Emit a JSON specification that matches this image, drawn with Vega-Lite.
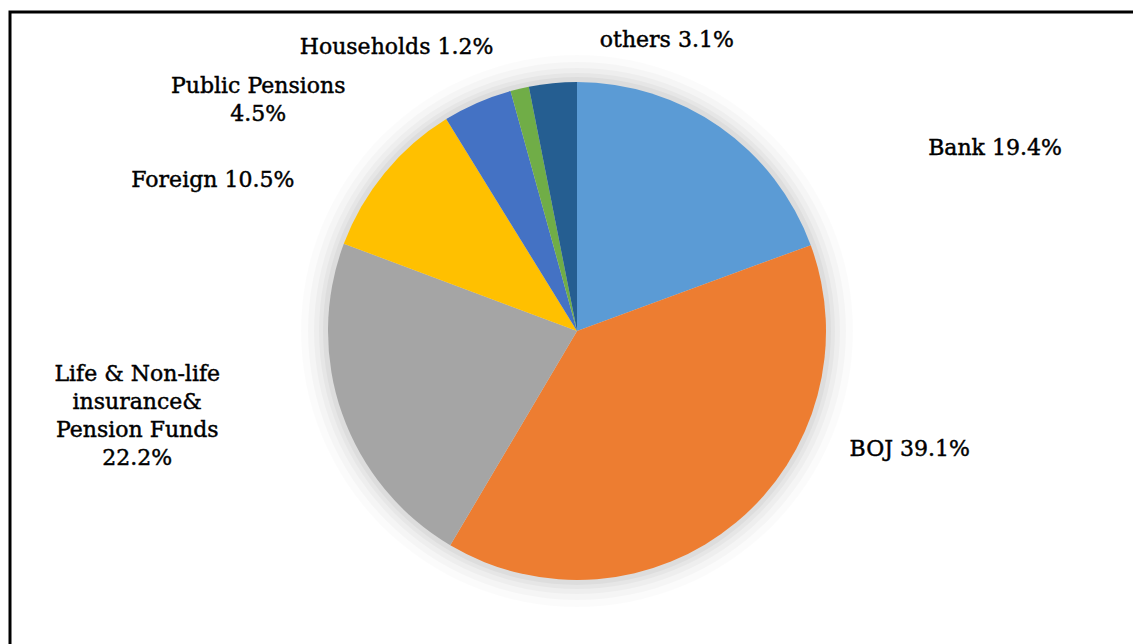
{
  "$schema": "https://vega.github.io/schema/vega-lite/v6.json",
  "width": 1133,
  "height": 644,
  "autosize": {"type": "fit", "contains": "padding"},
  "padding": {"left": 10, "top": 12, "right": -11, "bottom": -6},
  "background": "white",
  "config": {
    "view": {"stroke": "black", "strokeWidth": 3},
    "style": {"view": {"stroke": "black", "strokeWidth": 3}, "cell": {"stroke": "black", "strokeWidth": 3}},
    "text": {"font": "DejaVu Serif", "fontSize": 22, "color": "black", "stroke": "black", "strokeWidth": 0.45, "align": "center", "baseline": "middle", "lineBreak": "\n", "lineHeight": 28}
  },
  "data": {
    "values": [
      {"category": "Bank", "share": 19.4, "label": "Bank 19.4%"},
      {"category": "BOJ", "share": 39.1, "label": "BOJ 39.1%"},
      {"category": "Life & Non-life insurance& Pension Funds", "share": 22.2, "label": "Life & Non-life\ninsurance&\nPension Funds\n22.2%"},
      {"category": "Foreign", "share": 10.5, "label": "Foreign 10.5%"},
      {"category": "Public Pensions", "share": 4.5, "label": "Public Pensions\n4.5%"},
      {"category": "Households", "share": 1.2, "label": "Households 1.2%"},
      {"category": "others", "share": 3.1, "label": "others 3.1%"}
    ]
  },
  "transform": [
    {"window": [{"op": "row_number", "as": "idx"}]},
    {"stack": "share", "groupby": [], "sort": [{"field": "idx", "order": "ascending"}], "as": ["s0", "s1"]}
  ],
  "layer": [
    {
      "transform": [{"aggregate": [{"op": "sum", "field": "share", "as": "total"}]}],
      "mark": {"type": "arc", "outerRadius": 276, "fill": "#000", "opacity": 0.016},
      "encoding": {"theta": {"field": "total", "type": "quantitative"}}
    },
    {
      "transform": [{"aggregate": [{"op": "sum", "field": "share", "as": "total"}]}],
      "mark": {"type": "arc", "outerRadius": 269, "fill": "#000", "opacity": 0.022},
      "encoding": {"theta": {"field": "total", "type": "quantitative"}}
    },
    {
      "transform": [{"aggregate": [{"op": "sum", "field": "share", "as": "total"}]}],
      "mark": {"type": "arc", "outerRadius": 263, "fill": "#000", "opacity": 0.028},
      "encoding": {"theta": {"field": "total", "type": "quantitative"}}
    },
    {
      "transform": [{"aggregate": [{"op": "sum", "field": "share", "as": "total"}]}],
      "mark": {"type": "arc", "outerRadius": 258, "fill": "#000", "opacity": 0.032},
      "encoding": {"theta": {"field": "total", "type": "quantitative"}}
    },
    {
      "transform": [{"aggregate": [{"op": "sum", "field": "share", "as": "total"}]}],
      "mark": {"type": "arc", "outerRadius": 254, "fill": "#000", "opacity": 0.036},
      "encoding": {"theta": {"field": "total", "type": "quantitative"}}
    },
    {
      "mark": {"type": "arc", "outerRadius": 249},
      "encoding": {
        "theta": {"field": "share", "type": "quantitative", "stack": true},
        "order": {"field": "idx", "type": "quantitative"},
        "color": {
          "field": "category",
          "type": "nominal",
          "scale": {
            "domain": ["Bank", "BOJ", "Life & Non-life insurance& Pension Funds", "Foreign", "Public Pensions", "Households", "others"],
            "range": ["#5B9BD5", "#ED7D31", "#A5A5A5", "#FFC000", "#4472C4", "#70AD47", "#255E91"]
          },
          "legend": null
        }
      }
    },
    {
      "transform": [{"filter": "datum.category === 'Bank'"}],
      "mark": {"type": "text", "radius": 249, "dx": 418, "dy": 66},
      "encoding": {"theta": {"field": "s0", "type": "quantitative", "stack": null}, "text": {"field": "label"}}
    },
    {
      "transform": [{"filter": "datum.category === 'BOJ'"}],
      "mark": {"type": "text", "radius": 249, "dx": 99, "dy": 204},
      "encoding": {"theta": {"field": "s0", "type": "quantitative", "stack": null}, "text": {"field": "label"}}
    },
    {
      "transform": [{"filter": "datum.category === 'Life & Non-life insurance& Pension Funds'"}],
      "mark": {"type": "text", "radius": 249, "dx": -313, "dy": -171},
      "encoding": {"theta": {"field": "s0", "type": "quantitative", "stack": null}, "text": {"field": "label"}}
    },
    {
      "transform": [{"filter": "datum.category === 'Foreign'"}],
      "mark": {"type": "text", "radius": 249, "dx": -131, "dy": -64},
      "encoding": {"theta": {"field": "s0", "type": "quantitative", "stack": null}, "text": {"field": "label"}}
    },
    {
      "transform": [{"filter": "datum.category === 'Public Pensions'"}],
      "mark": {"type": "text", "radius": 249, "dx": -188, "dy": -33},
      "encoding": {"theta": {"field": "s0", "type": "quantitative", "stack": null}, "text": {"field": "label"}}
    },
    {
      "transform": [{"filter": "datum.category === 'Households'"}],
      "mark": {"type": "text", "radius": 249, "dx": -114, "dy": -44},
      "encoding": {"theta": {"field": "s0", "type": "quantitative", "stack": null}, "text": {"field": "label"}}
    },
    {
      "transform": [{"filter": "datum.category === 'others'"}],
      "mark": {"type": "text", "radius": 249, "dx": 138, "dy": -47},
      "encoding": {"theta": {"field": "s0", "type": "quantitative", "stack": null}, "text": {"field": "label"}}
    }
  ]
}
